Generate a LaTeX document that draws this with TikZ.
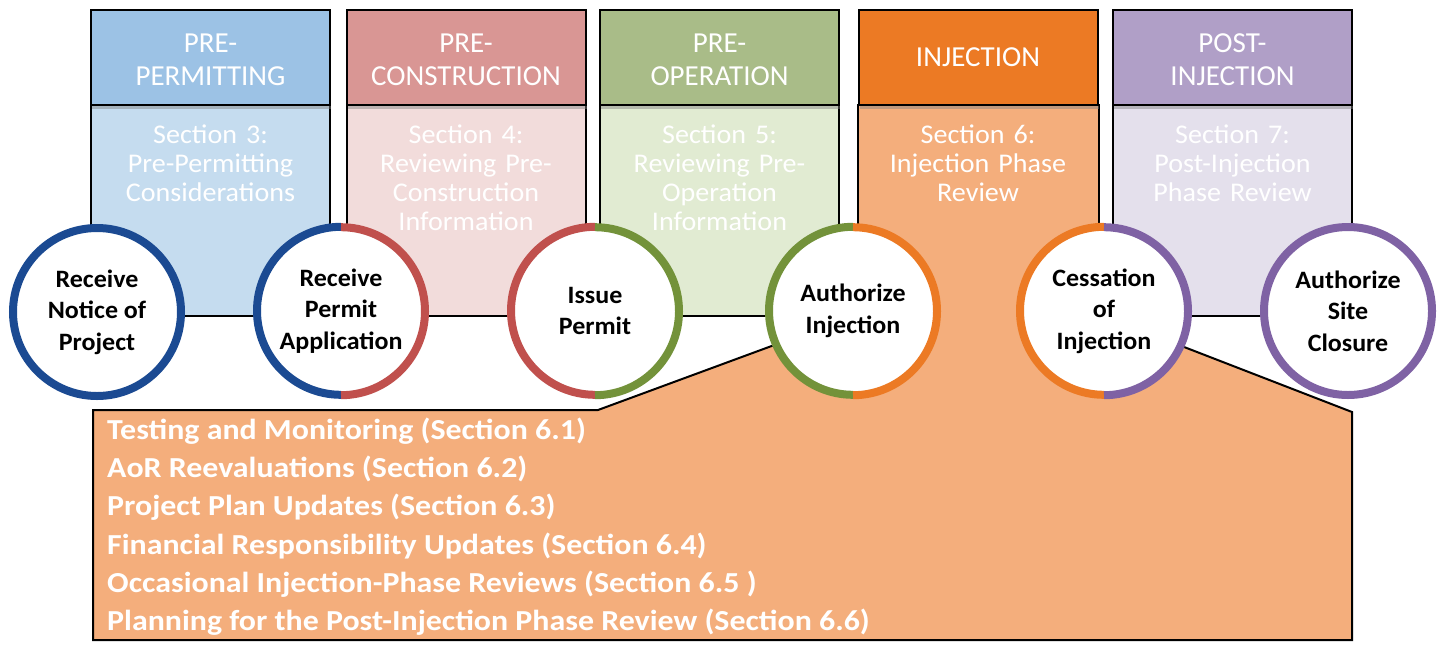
\documentclass[tikz,border=0pt]{standalone}
\usepackage{fontspec}
\setmainfont{Carlito}
\newfontfamily\widefont{Carlito}[FakeStretch=1.04]
\newfontfamily\taskfont{Carlito}[FakeStretch=1.1]
\usetikzlibrary{shadows}

\definecolor{blueHead}{HTML}{9CC2E5}
\definecolor{blueBody}{HTML}{C5DCEF}
\definecolor{blueRing}{HTML}{1B4A92}
\definecolor{redHead}{HTML}{D99694}
\definecolor{redBody}{HTML}{F2DCDB}
\definecolor{redRing}{HTML}{C0504D}
\definecolor{greenHead}{HTML}{A9BC88}
\definecolor{greenBody}{HTML}{E1EBD2}
\definecolor{greenRing}{HTML}{73923A}
\definecolor{orangeHead}{HTML}{EC7A24}
\definecolor{orangeBody}{HTML}{F4AE7C}
\definecolor{orangeRing}{HTML}{EC7A24}
\definecolor{purpleHead}{HTML}{B09FC7}
\definecolor{purpleBody}{HTML}{E4E0EC}
\definecolor{purpleRing}{HTML}{7F62A4}

\newcommand{\headtop}{\rule{0pt}{24pt}}

\tikzset{
  phasehead/.style={draw=black, line width=2pt, minimum width=239pt, minimum height=95pt,
    inner sep=0pt, text=white, align=center, font=\fontsize{29}{33}\selectfont,
    drop shadow={shadow xshift=1pt, shadow yshift=-4pt, opacity=.45}},
  phasebody/.style={draw=black, line width=2pt, minimum width=239pt, minimum height=211pt, inner sep=0pt},
  bodytext/.style={anchor=north, text=white, align=center, text width=236pt, inner sep=0pt,
    font=\widefont\fontsize{27}{29}\selectfont},
  milestone/.style={circle, fill=white, minimum size=168pt, inner sep=0pt, align=center,
    font=\widefont\bfseries\fontsize{25}{31.5}\selectfont},
  ringline/.style={line width=8pt},
  listline/.style={anchor=west, text=white, inner sep=0pt, font=\taskfont\bfseries\fontsize{29}{29}\selectfont}
}

\begin{document}
\begin{tikzpicture}[x=1pt, y=-1pt]
  \useasboundingbox (0,0) rectangle (1442,646);
  % phase bodies
  \node[phasebody, fill=blueBody] (body1) at (210.5,210.5) {};
  \node[phasebody, fill=redBody] (body2) at (466,210.5) {};
  \node[phasebody, fill=greenBody] (body3) at (719.5,210.5) {};
  \node[phasebody, fill=orangeBody, draw=none] (body4) at (978,210.5) {};
  \node[phasebody, fill=purpleBody] (body5) at (1232.5,210.5) {};
  \draw[line width=2pt] (body4.north west) -- (body4.south west) (body4.north east) -- (body4.south east);

  % callout under the injection phase
  \fill[orangeBody] (93,410) -- (598,410) -- (853,316) -- (1104,316) -- (1352,412) -- (1352,640) -- (93,640) -- cycle;
  \draw[line width=2pt] (1104,316) -- (1352,412) -- (1352,640) -- (93,640) -- (93,410) -- (598,410) -- (853,316);

  \node[bodytext] (sec3) at (210.5,125) {Section 3:\\Pre-Permitting\\Considerations};
  \node[bodytext] (sec4) at (466,125) {Section 4:\\Reviewing Pre-\\Construction\\Information};
  \node[bodytext] (sec5) at (719.5,125) {Section 5:\\Reviewing Pre-\\Operation\\Information};
  \node[bodytext] (sec6) at (978,125) {Section 6:\\Injection Phase\\Review};
  \node[bodytext] (sec7) at (1232.5,125) {Section 7:\\Post-Injection\\Phase Review};

  % phase headers
  \node[phasehead, fill=blueHead] (hdr1) at (210.5,57.5) {\headtop PRE-\\PERMITTING};
  \node[phasehead, fill=redHead] (hdr2) at (466,57.5) {\headtop PRE-\\CONSTRUCTION};
  \node[phasehead, fill=greenHead] (hdr3) at (719.5,57.5) {\headtop PRE-\\OPERATION};
  \node[phasehead, fill=orangeHead] (hdr4) at (978,57.5) {INJECTION};
  \node[phasehead, fill=purpleHead] (hdr5) at (1232.5,57.5) {\headtop POST-\\INJECTION};

  % milestones
  \node[milestone] (recv) at (97,312) {Receive\\Notice of\\Project};
  \node[milestone] (apply) at (341,311) {Receive\\Permit\\Application};
  \node[milestone] (issue) at (595,311) {Issue\\Permit};
  \node[milestone] (auth) at (853,311) {Authorize\\Injection};
  \node[milestone] (cease) at (1104,311) {Cessation\\of\\Injection};
  \node[milestone] (close) at (1348,311) {Authorize\\Site\\Closure};

  \draw[ringline, blueRing] (recv) circle[radius=84pt];
  \draw[ringline, blueRing] (apply.north) arc[start angle=90, end angle=270, radius=84pt];
  \draw[ringline, redRing] (apply.south) arc[start angle=-90, end angle=90, radius=84pt];
  \draw[ringline, redRing] (issue.north) arc[start angle=90, end angle=270, radius=84pt];
  \draw[ringline, greenRing] (issue.south) arc[start angle=-90, end angle=90, radius=84pt];
  \draw[ringline, greenRing] (auth.north) arc[start angle=90, end angle=270, radius=84pt];
  \draw[ringline, orangeRing] (auth.south) arc[start angle=-90, end angle=90, radius=84pt];
  \draw[ringline, orangeRing] (cease.north) arc[start angle=90, end angle=270, radius=84pt];
  \draw[ringline, purpleRing] (cease.south) arc[start angle=-90, end angle=90, radius=84pt];
  \draw[ringline, purpleRing] (close) circle[radius=84pt];

  % injection phase tasks
  \foreach \task [count=\i] in {{Testing and Monitoring (Section 6.1)},
      {AoR Reevaluations (Section 6.2)},
      {Project Plan Updates (Section 6.3)},
      {Financial Responsibility Updates (Section 6.4)},
      {Occasional Injection-Phase Reviews (Section 6.5 )},
      {Planning for the Post-Injection Phase Review (Section 6.6)}}
    \node[listline] (task\i) at (107,393+38.2*\i) {\task};
\end{tikzpicture}
\end{document}
